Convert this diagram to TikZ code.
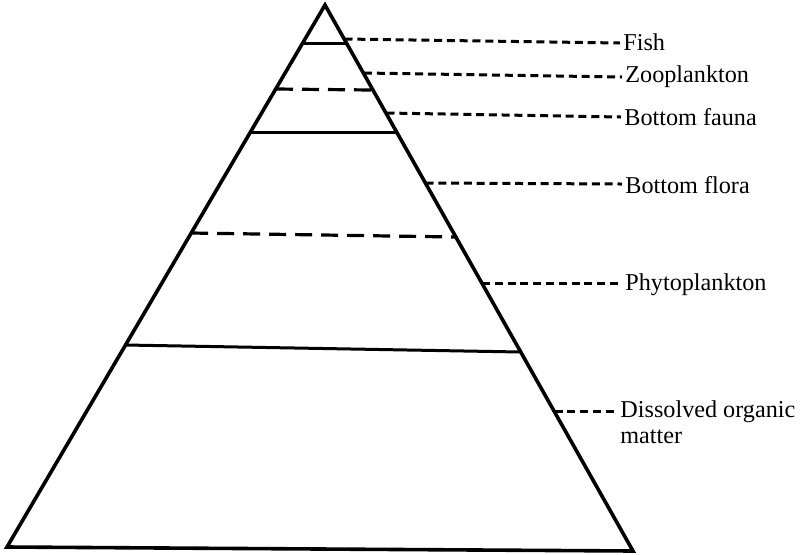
\documentclass[tikz,border=0pt]{standalone}
\usepackage{fontspec}
\setmainfont{Liberation Serif}
\begin{document}
\begin{tikzpicture}[x=0.5pt,y=-0.5pt,
  edge/.style={line width=1.8pt,line join=miter,line cap=round},
  solidlayer/.style={line width=1.5pt},
  dashlayer/.style={line width=1.6pt,dash pattern=on 8.5pt off 4.5pt},
  leader/.style={line width=1.5pt,dash pattern=on 4pt off 2.4pt},
  lab/.style={anchor=base west,inner xsep=1.5pt,inner ysep=0pt,font=\fontsize{12.1}{13}\selectfont,align=left}]
\useasboundingbox (0,0) rectangle (800,554);
% pyramid corners
\coordinate (apex) at (325,5);
\coordinate (bl) at (7,547);
\coordinate (br) at (633,551);
\draw[edge] (bl) -- (apex) -- (br) -- cycle;
% layer boundaries
\coordinate (l1a) at (302.7,43); \coordinate (l1b) at (346.4,43);
\coordinate (l2a) at (276,89); \coordinate (l2b) at (372,90);
\coordinate (l3a) at (250.5,132); \coordinate (l3b) at (396.6,132);
\coordinate (l4a) at (191.2,233); \coordinate (l4b) at (455.9,237);
\coordinate (l5a) at (125.5,345); \coordinate (l5b) at (520.7,352);
\draw[solidlayer] (l1a) -- (l1b);
\draw[dashlayer] (l2a) -- (l2b);
\draw[solidlayer] (l3a) -- (l3b);
\draw[dashlayer] (l4a) -- (l4b);
\draw[solidlayer] (l5a) -- (l5b);
% labels
\node[lab] (fish) at (620,50) {Fish};
\node[lab] (zoo) at (622,82) {Zooplankton};
\node[lab] (bfa) at (621,125) {Bottom fauna};
\node[lab] (bfl) at (622,193) {Bottom flora};
\node[lab] (phy) at (622,290) {Phytoplankton};
\node[lab] (dom) at (617,443) {Dissolved organic\\matter};
% leader start points on the right edge
\coordinate (s1) at (344.5,39);
\coordinate (s2) at (364,73);
\coordinate (s3) at (386.5,113);
\coordinate (s4) at (425.5,183);
\coordinate (s5) at (482,283);
\coordinate (s6) at (554.5,411);
\draw[leader] (s1) -- (fish.base west |- 0,43);
\draw[leader] (s2) -- (zoo.base west |- 0,77);
\draw[leader] (s3) -- (bfa.base west |- 0,117);
\draw[leader] (s4) -- (bfl.base west |- 0,184);
\draw[leader] (s5) -- (phy.base west |- 0,283);
\draw[leader] (s6) -- (dom.base west |- 0,411);
\end{tikzpicture}
\end{document}
